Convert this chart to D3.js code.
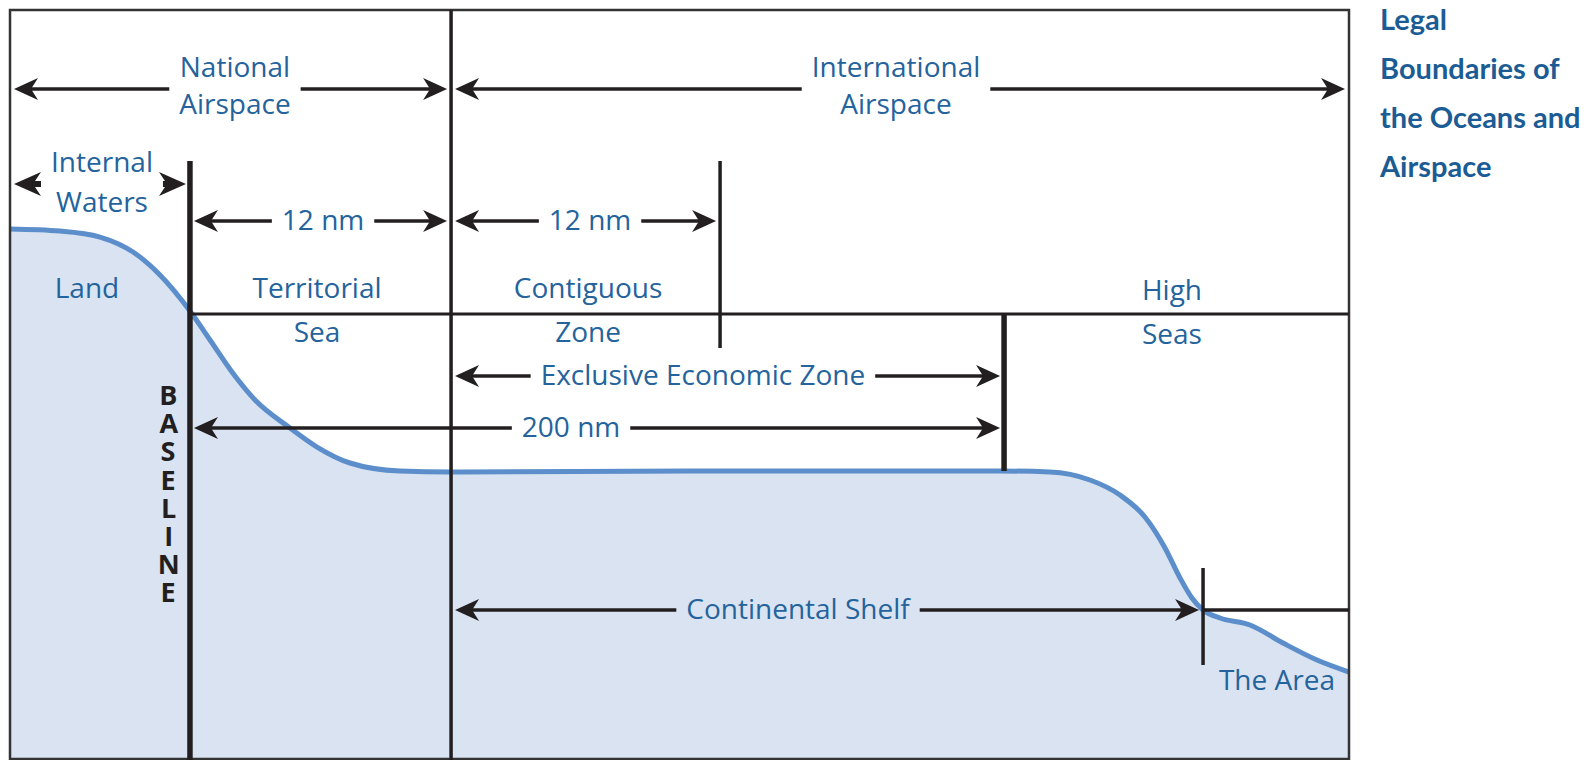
<!DOCTYPE html>
<html>
<head>
<meta charset="utf-8">
<script src="https://cdn.jsdelivr.net/npm/d3@7"></script>
<style>
  body { margin: 0; background: #fff; }
  svg { display: block; }
</style>
</head>
<body>
<svg id="chart" width="1587" height="760"></svg>
<script>
// diagram units: x runs 0..100 across the frame, y runs 0..100 from top to bottom
var boundaryNames = ['coast', 'baseline', 'territorial', 'contiguous', 'eez', 'shelf', 'edge']
var boundaryX     = [0, 13.44, 32.94, 53.03, 74.24, 89.1, 100]

// land and sea floor profile
var profileX = [0, 3.73, 6.72, 9.19, 11.2, 13.44, 14.94, 16.58, 18.3, 20.91, 22.93, 25.39, 29.13, 32.86,
                51.53, 73.94, 77.67, 80.66, 82.9, 84.76, 86.26, 87.38, 88.27, 89.1, 90.37, 92.61, 95.07, 97.61, 100]
var profileY = [29.2, 29.47, 30.27, 32.27, 35.33, 40.13, 44.0, 48.27, 52.0, 55.73, 58.27, 60.4, 61.47, 61.6,
                61.47, 61.47, 61.6, 62.67, 64.67, 67.6, 71.73, 75.73, 78.4, 80.0, 81.07, 82.0, 84.4, 86.67, 88.27]

var surfaceLevel = 40.53

// dimension arrows
var arrowLabels = [['National', 'Airspace'], ['International', 'Airspace'], ['Internal', 'Waters'],
                   ['12 nm'], ['12 nm'], ['Exclusive Economic Zone'], ['200 nm'], ['Continental Shelf']]
var arrowFrom   = ['coast', 'territorial', 'coast', 'baseline', 'territorial', 'territorial', 'baseline', 'territorial']
var arrowTo     = ['territorial', 'edge', 'baseline', 'territorial', 'contiguous', 'eez', 'eez', 'shelf']
var arrowLevel  = [10.53, 10.53, 23.2, 28.13, 28.13, 48.8, 55.73, 80]
var arrowLabelX = [16.8, 66.17, 6.87, 23.38, 43.32, 51.75, 41.9, 58.85]
var arrowHeavy  = [false, false, true, false, false, false, false, false]

// boundary markers (vertical lines)
var markAt    = ['baseline', 'territorial', 'contiguous', 'eez', 'shelf']
var markTop   = [20.13, 0, 20.13, 40.53, 74.4]
var markBot   = [100, 100, 45.07, 61.47, 87.33]
var markHeavy = [true, false, false, true, false]

// zone names
var zoneLabels = [['Land'], ['Territorial', 'Sea'], ['Contiguous', 'Zone'], ['High', 'Seas'], ['The Area']]
var zoneX      = [5.75, 22.93, 43.17, 86.78, 94.62]
var zoneY      = [38.4, 38.4, 38.4, 38.67, 90.67]

var baselineWord = 'BASELINE'
var titleLines = ['Legal', 'Boundaries of', 'the Oceans and', 'Airspace']

var ink = '#231f20'
var labelColor = '#24639c'

var svg = d3.select('#chart')

var x = d3.scaleLinear().domain([0, 100]).range([10, 1349])
var y = d3.scaleLinear().domain([0, 100]).range([10, 760])

function bx(name) { return x(boundaryX[boundaryNames.indexOf(name)]) }

var profile = profileX.map(function (d, i) { return { x: d, y: profileY[i] } })

var area = d3.area()
  .x(function (d) { return x(d.x) })
  .y0(y(100))
  .y1(function (d) { return y(d.y) })
  .curve(d3.curveMonotoneX)

var line = d3.line()
  .x(function (d) { return x(d.x) })
  .y(function (d) { return y(d.y) })
  .curve(d3.curveMonotoneX)

svg.append('path').datum(profile).attr('d', area).attr('fill', '#d9e3f1')
svg.append('path').datum(profile).attr('d', line)
  .attr('fill', 'none').attr('stroke', '#5b8eca').attr('stroke-width', 5)

// frame
svg.append('rect')
  .attr('x', x(0)).attr('y', y(0))
  .attr('width', x(100) - x(0)).attr('height', y(100) - y(0) - 1)
  .attr('fill', 'none').attr('stroke', '#333').attr('stroke-width', 2.5)

// sea surface
svg.append('line')
  .attr('x1', bx('baseline')).attr('x2', bx('edge'))
  .attr('y1', y(surfaceLevel)).attr('y2', y(surfaceLevel))
  .attr('stroke', ink).attr('stroke-width', 3)

// shelf line running on past the foot of the slope
svg.append('line')
  .attr('x1', bx('shelf')).attr('x2', bx('edge'))
  .attr('y1', y(arrowLevel[7])).attr('y2', y(arrowLevel[7]))
  .attr('stroke', ink).attr('stroke-width', 3.5)

// vertical markers
svg.selectAll('.mark')
  .data(markAt)
  .enter().append('line')
  .attr('class', 'mark')
  .attr('x1', function (d) { return bx(d) })
  .attr('x2', function (d) { return bx(d) })
  .attr('y1', function (d, i) { return y(markTop[i]) })
  .attr('y2', function (d, i) { return y(markBot[i]) })
  .attr('stroke', ink)
  .attr('stroke-width', function (d, i) { return markHeavy[i] ? 5.5 : 3.5 })

function head(tx, ty, dir, big) {
  var len = big ? 27 : 24, half = big ? 12 : 11, notch = big ? 19 : 17
  var p = d3.path()
  p.moveTo(tx, ty)
  p.lineTo(tx - dir * len, ty - half)
  p.lineTo(tx - dir * notch, ty)
  p.lineTo(tx - dir * len, ty + half)
  p.closePath()
  return p.toString()
}

function addLines(g, lines, cx, baseY, gap) {
  var t = g.append('text')
    .attr('text-anchor', 'middle')
    .attr('fill', labelColor)
    .style('font-family', '"Open Sans", sans-serif')
    .style('font-size', '28px')
  lines.forEach(function (s, k) {
    t.append('tspan').attr('x', cx).attr('y', baseY + k * gap).text(s)
  })
  return t
}

// arrows with their labels
arrowLabels.forEach(function (lab, i) {
  var g = svg.append('g')
  var yy = y(arrowLevel[i])
  var x1 = bx(arrowFrom[i]) + 4
  var x2 = bx(arrowTo[i]) - 4
  var cx = x(arrowLabelX[i])
  var big = arrowHeavy[i]
  var t = lab.length > 1
    ? addLines(g, lab, cx, yy - 12, big ? 40 : 37)
    : addLines(g, lab, cx, yy + 9, 0)
  var w = 0
  t.selectAll('tspan').each(function () { w = Math.max(w, this.getComputedTextLength()) })
  var gl = cx - w / 2 - 10
  var gr = cx + w / 2 + 10
  var sw = big ? 6 : 3.5
  g.append('line').attr('x1', x1 + 10).attr('x2', gl).attr('y1', yy).attr('y2', yy)
    .attr('stroke', ink).attr('stroke-width', sw)
  g.append('line').attr('x1', gr).attr('x2', x2 - 10).attr('y1', yy).attr('y2', yy)
    .attr('stroke', ink).attr('stroke-width', sw)
  g.append('path').attr('d', head(x1, yy, -1, big)).attr('fill', ink)
  g.append('path').attr('d', head(x2, yy, 1, big)).attr('fill', ink)
})

// zone names
zoneLabels.forEach(function (lab, i) {
  addLines(svg.append('g'), lab, x(zoneX[i]), y(zoneY[i]), 44)
})

// BASELINE written top to bottom beside the baseline
svg.append('text')
  .attr('x', x(11.8))
  .attr('y', y(48.8))
  .attr('textLength', baselineWord.length * 29.3)
  .attr('lengthAdjust', 'spacing')
  .attr('fill', ink)
  .style('writing-mode', 'vertical-rl')
  .style('text-orientation', 'upright')
  .style('font-family', '"Open Sans", sans-serif')
  .style('font-weight', 700)
  .style('font-size', '27px')
  .text(baselineWord)

// title
svg.append('g')
  .selectAll('text')
  .data(titleLines)
  .enter().append('text')
  .attr('x', 1380)
  .attr('y', function (d, i) { return 30 + i * 49 })
  .attr('fill', '#1b5c94')
  .style('font-family', 'Lato, sans-serif')
  .style('font-weight', 700)
  .style('font-size', '29px')
  .text(function (d) { return d })
</script>
</body>
</html>
